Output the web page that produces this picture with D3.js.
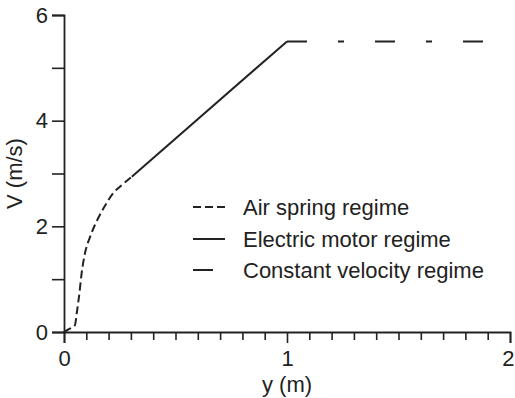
<!DOCTYPE html>
<html>
<head>
<meta charset="utf-8">
<script src="https://cdn.jsdelivr.net/npm/d3@7"></script>
<style>
  html, body { margin: 0; padding: 0; background: #fff; }
  svg { display: block; font-family: "Liberation Sans", Arial, Helvetica, sans-serif; }
</style>
</head>
<body>
<svg id="chart" width="515" height="398"></svg>
<script>
// Velocity profile of the launcher, by regime
const airSpringY = [0, 0.02, 0.049, 0.057, 0.069, 0.079, 0.094, 0.117, 0.139, 0.161, 0.191, 0.221, 0.259, 0.304];
const airSpringV = [0, 0.05, 0.13, 0.35, 0.73, 1.11, 1.49, 1.80, 2.03, 2.22, 2.44, 2.63, 2.78, 2.94];

const motorY = [0.304, 1.0];
const motorV = [2.94, 5.5];

const constantY = [1.0, 1.88];
const constantV = [5.5, 5.5];

const legendLabels = ["Air spring regime", "Electric motor regime", "Constant velocity regime"];
const xMajorTicks = [0, 1, 2];
const yTicks = [0, 1, 2, 3, 4, 5, 6];
const yLabelled = [0, 2, 4, 6];

const ink = "#222";
const svg = d3.select("#chart");

const x = d3.scaleLinear().domain([0, 2]).range([64, 510]);
const y = d3.scaleLinear().domain([0, 6]).range([332, 15]);

const fontSize = 22;

// x axis: minor ticks every 0.1, labelled majors at whole metres
const xMinor = d3.range(0, 2.0001, 0.1).map(v => +v.toFixed(1)).filter(v => !xMajorTicks.includes(v));
const gxMinor = svg.append("g").attr("transform", `translate(0,${y(0)})`)
  .call(d3.axisBottom(x).tickValues(xMinor).tickSize(8).tickFormat(""));
const gx = svg.append("g").attr("transform", `translate(0,${y(0)})`)
  .call(d3.axisBottom(x).tickValues(xMajorTicks).tickSize(11).tickPadding(7).tickFormat(d3.format("d")));
gxMinor.select(".domain").remove();

// keep the last x label inside the right edge
gx.selectAll(".tick text")
  .filter(d => d === 2)
  .attr("text-anchor", "end")
  .attr("x", 4);

// y axis
const gy = svg.append("g").attr("transform", `translate(${x(0)},0)`)
  .call(d3.axisLeft(y).tickValues(yTicks).tickSize(12).tickPadding(4)
    .tickFormat(d => yLabelled.includes(d) ? d3.format("d")(d) : ""));

[gxMinor, gx, gy].forEach(g => {
  g.selectAll("line").attr("stroke", ink).attr("stroke-width", 1.6);
  g.selectAll(".domain").attr("stroke", ink).attr("stroke-width", 1.8);
  g.selectAll("text").attr("fill", ink).style("font-size", fontSize + "px")
    .style("font-family", '"Liberation Sans", Arial, sans-serif');
});

// axis titles
svg.append("text")
  .attr("x", x(1)).attr("y", 392)
  .attr("text-anchor", "middle").attr("fill", ink)
  .style("font-size", fontSize + "px")
  .text("y (m)");

svg.append("text")
  .attr("transform", `translate(22,${(y(0) + y(6)) / 2}) rotate(-90)`)
  .attr("text-anchor", "middle").attr("fill", ink)
  .style("font-size", fontSize + "px")
  .text("V (m/s)");

// curves
const zip = (a, b) => a.map((v, i) => [v, b[i]]);

svg.append("path")
  .datum(zip(airSpringY, airSpringV))
  .attr("d", d3.line().x(d => x(d[0])).y(d => y(d[1])).curve(d3.curveMonotoneX))
  .attr("fill", "none").attr("stroke", ink).attr("stroke-width", 2)
  .attr("stroke-dasharray", "8,4");

svg.append("path")
  .datum(zip(motorY, motorV))
  .attr("d", d3.line().x(d => x(d[0])).y(d => y(d[1])))
  .attr("fill", "none").attr("stroke", ink).attr("stroke-width", 2);

svg.append("path")
  .datum(zip(constantY, constantV))
  .attr("d", d3.line().x(d => x(d[0])).y(d => y(d[1])))
  .attr("fill", "none").attr("stroke", ink).attr("stroke-width", 2)
  .attr("stroke-dasharray", "20,31,6,31");

// legend
const legendRows = [
  { y: 207, len: 32, dash: "8,4", base: 215 },
  { y: 239, len: 32, dash: null, base: 247 },
  { y: 270, len: 20, dash: null, base: 278 }
];
const legend = svg.append("g");
legendLabels.forEach((label, i) => {
  const r = legendRows[i];
  legend.append("line")
    .attr("x1", 193).attr("x2", 193 + r.len)
    .attr("y1", r.y).attr("y2", r.y)
    .attr("stroke", ink).attr("stroke-width", 2)
    .attr("stroke-dasharray", r.dash);
  legend.append("text")
    .attr("x", 243).attr("y", r.base)
    .attr("fill", ink).style("font-size", fontSize + "px")
    .text(label);
});
</script>
</body>
</html>
